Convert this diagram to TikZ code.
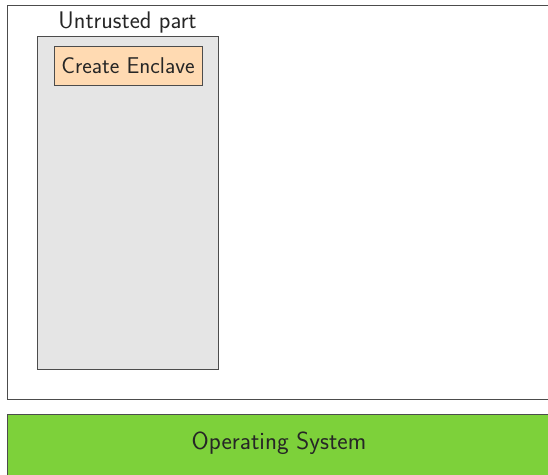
\documentclass[tikz,border=0pt]{standalone}
\usepackage{fontspec}
\renewcommand{\familydefault}{\sfdefault}
\definecolor{osgreen}{RGB}{125,209,58}
\definecolor{enclorange}{RGB}{255,218,178}
\tikzset{
  frame/.style={draw=black!70, line width=1pt},
  label/.style={font=\fontsize{24}{28}\selectfont, text=black!85, inner sep=0pt},
}
\begin{document}
\begin{tikzpicture}[x=1pt, y=-1pt]
  \useasboundingbox (0,0) rectangle (548,474);
  \clip (0,0) rectangle (548,474);
  % application area
  \draw[frame, fill=white] (7,5) rectangle (560,399);
  % untrusted part
  \draw[frame, fill=gray!20] (37,36) rectangle (218,369);
  \node[label] (untrusted) at (127.5,22.5) {Untrusted part};
  \node[frame, fill=enclorange, minimum width=148pt, minimum height=39pt,
        inner sep=0pt, font=\fontsize{22.8}{27}\selectfont, text=black!85] (create) at (128,65.5) {Create Enclave};
  % operating system
  \draw[frame, fill=osgreen] (7,414) rectangle (560,490);
  \node[label, font=\fontsize{24.8}{29}\selectfont] (os) at (279,443) {Operating System};
\end{tikzpicture}
\end{document}
